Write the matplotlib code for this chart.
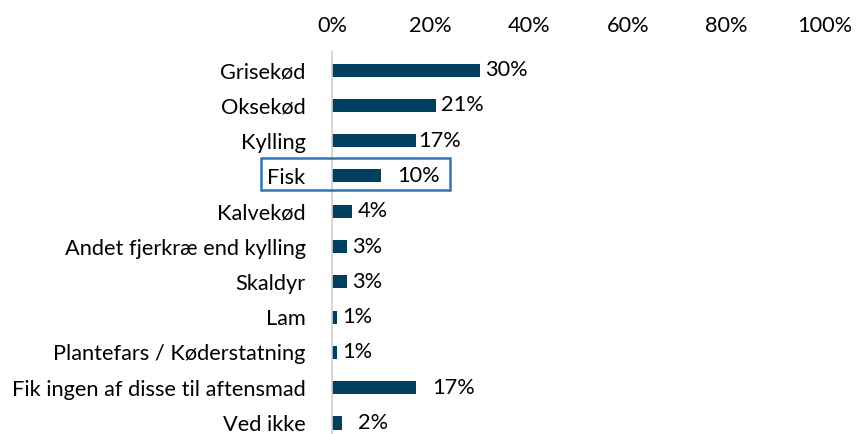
import matplotlib
matplotlib.use("Agg")
import matplotlib.pyplot as plt
from matplotlib.patches import Rectangle

categories = ["Grisekød", "Oksekød", "Kylling", "Fisk", "Kalvekød",
              "Andet fjerkræ end kylling", "Skaldyr", "Lam",
              "Plantefars / Køderstatning", "Fik ingen af disse til aftensmad",
              "Ved ikke"]
values = [30, 21, 17, 10, 4, 3, 3, 1, 1, 17, 2]
xticks = [0, 20, 40, 60, 80, 100]
highlight = "Fisk"

# label offsets in points (style)
label_pad = [4, 4, 1.5, 11.5, 4, 4, 4, 4, 4, 11.5, 11.5]

plt.rcParams['font.family'] = ['Lato', 'DejaVu Sans']
FS = 15.7
W, H = 856, 434
fig = plt.figure(figsize=(W/100, H/100), dpi=100)
x0, x1 = 332, 825
ytop, ybot = 52.4, 434
ax = fig.add_axes([x0/W, 1-ybot/H, (x1-x0)/W, (ybot-ytop)/H])
n = len(categories)
ypos = list(range(n))
bar_color = "#003f5f"
ax.barh(ypos, values, height=0.37, color=bar_color)
ax.set_xlim(0, 100)
ax.set_ylim(10 + (434-423)/35.2, -0.5)
ax.xaxis.tick_top()
ax.set_xticks(xticks)
ax.set_xticklabels([f"{t}%" for t in xticks], fontsize=FS, color="#000000")
ax.tick_params(axis='x', length=0, pad=12)
ax.set_yticks(ypos)
ax.set_yticklabels(categories, fontsize=FS, color="#000000")
ax.tick_params(axis='y', length=0, pad=19)
for s in ["top", "right", "bottom"]:
    ax.spines[s].set_visible(False)
ax.spines["left"].set_color("#d0d0d0")
ax.spines["left"].set_linewidth(1.2)

for i, v in enumerate(values):
    ax.annotate(f"{v}%", (v, i), xytext=(label_pad[i], 0), textcoords="offset points",
                va="center", ha="left", fontsize=FS, color="#000000")

# highlight box
hi = categories.index(highlight)
bx0, bx1 = 261, 450
by0, by1 = 158, 190
fig.patches.append(Rectangle((bx0/W, 1-by1/H), (bx1-bx0)/W, (by1-by0)/H,
                             transform=fig.transFigure, fill=False,
                             edgecolor="#2e75b6", linewidth=1.8))

fig.savefig("out.png", dpi=100)
